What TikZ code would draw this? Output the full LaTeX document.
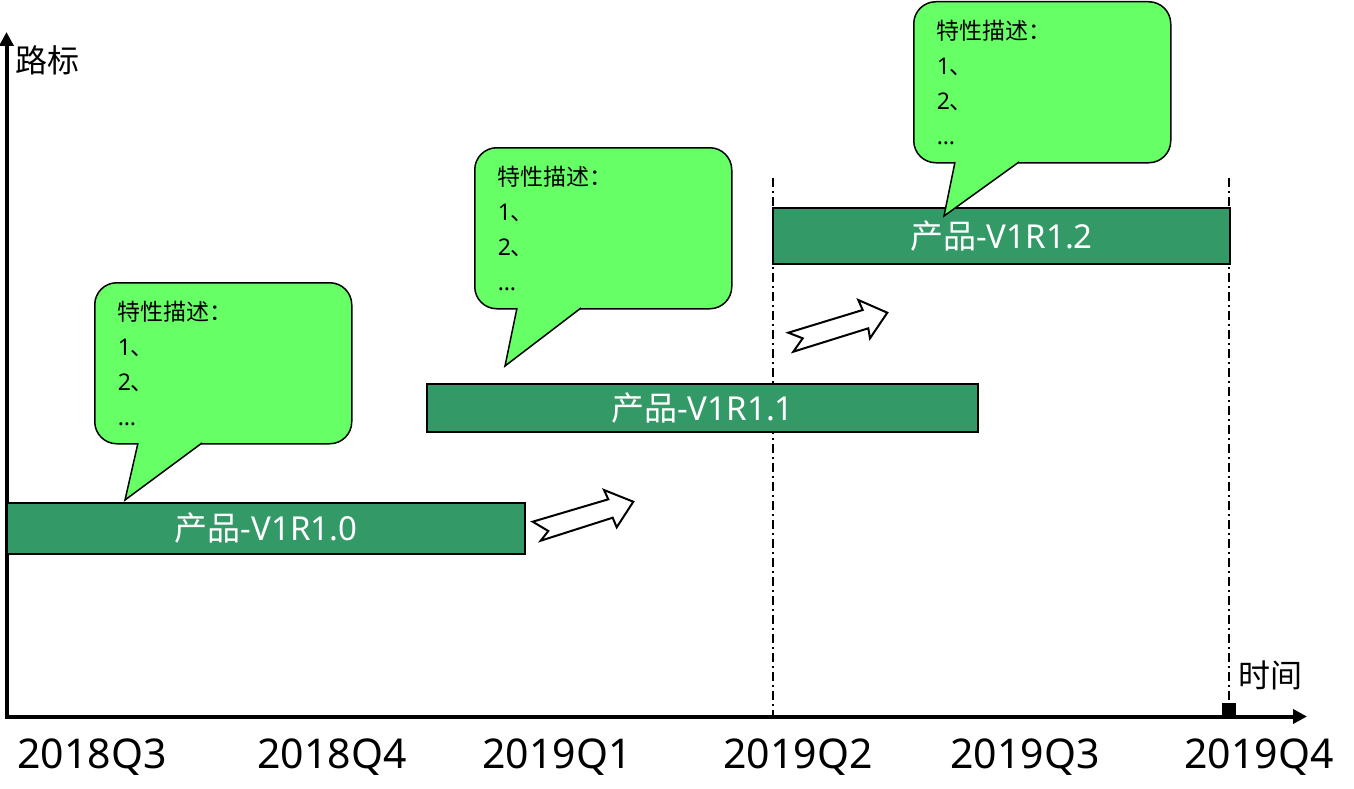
\documentclass[tikz,border=0pt]{standalone}
\usepackage{fontspec}
\setmainfont{Noto Sans}
\newfontfamily\cjk{Noto Sans CJK SC}
\usetikzlibrary{arrows.meta,calc}
\definecolor{bargreen}{RGB}{51,153,102}
\definecolor{callgreen}{RGB}{102,255,102}
\newcommand\calltail[3]{%
  \fill[callgreen] ($(#3)!1.06!(#1)$) -- (#3) -- ($(#3)!1.06!(#2)$) -- cycle;
  \draw[tailline] (#1) -- (#3) -- (#2);}
\begin{document}
\begin{tikzpicture}[x=1pt,y=-1pt,
  bar/.style={draw=black, line width=2.5pt, fill=bargreen, text=white, inner sep=0pt,
    font=\fontsize{33}{36}\selectfont},
  callbox/.style={draw=black, line width=1.5pt, fill=callgreen, rounded corners=22pt,
    minimum width=257pt, minimum height=161pt, anchor=north west, inner xsep=23pt,
    text width=211pt, align=left, font=\fontsize{23}{35}\selectfont},
  tailline/.style={draw=black, line width=1.5pt, line join=miter},
  blockarrow/.style={draw=black, line width=2pt, fill=white, line join=miter},
  axis/.style={line width=4pt, line join=miter,
    {Triangle[length=14pt,width=14pt]}-{Triangle[length=14pt,width=14pt]}},
  guide/.style={line width=2pt, dash pattern=on 9pt off 4pt on 2pt off 4pt},
  qlabel/.style={font=\fontsize{41}{46}\selectfont, inner sep=0pt},
  axlabel/.style={font=\fontsize{32}{36}\cjk, inner sep=0pt}
]
\useasboundingbox (0,0) rectangle (1354,789);

% axes
\coordinate (O) at (6.5,716.5);
\coordinate (Yend) at (6.5,32);
\coordinate (Xend) at (1307,716.5);
\draw[axis] (Yend) -- (O) -- (Xend);
\node[axlabel] (yl) at (48,60) {路标};
\node[axlabel] (xl) at (1270,675) {时间};

% guides
\coordinate (g1t) at (773,178);
\coordinate (g1b) at (773,716);
\coordinate (g2t) at (1229,178);
\coordinate (g2b) at (1229,703);
\draw[guide] (g1t) -- (g1b);
\draw[guide] (g2t) -- (g2b);
\fill (1222,703) rectangle (1236,716.5);

% bars
\node[bar, minimum width=518pt, minimum height=51pt] (b1) at (266,528.5) {{\cjk 产品}-V1R1.0};
\node[bar, minimum width=551pt, minimum height=48pt] (b2) at (702.5,408) {{\cjk 产品}-V1R1.1};
\node[bar, minimum width=457pt, minimum height=56pt] (b3) at (1001.5,236) {{\cjk 产品}-V1R1.2};

% block arrows
\draw[blockarrow] (532.7,521.7) -- (608.3,499.3) -- (604,490) -- (633.3,501.7)
  -- (616.7,527.3) -- (612.7,517.7) -- (540.7,540.7) -- (548.3,531) -- cycle;
\draw[blockarrow] (788.3,332.7) -- (862.7,310) -- (858.3,300) -- (887.3,312.7)
  -- (870,338.3) -- (868.3,328.3) -- (793.3,351.7) -- (802.7,338.3) -- cycle;

% callouts
\node[callbox] (c1) at (94,282) {{\cjk 特性描述：}\\1{\cjk 、}\\2{\cjk 、}\\…};
\coordinate (c1a) at (138,443);
\coordinate (c1b) at (202,443);
\coordinate (c1t) at (125,500);
\calltail{c1a}{c1b}{c1t}

\node[callbox] (c2) at (474,147) {{\cjk 特性描述：}\\1{\cjk 、}\\2{\cjk 、}\\…};
\coordinate (c2a) at (517,308);
\coordinate (c2b) at (581,308);
\coordinate (c2t) at (505,366);
\calltail{c2a}{c2b}{c2t}

\node[callbox] (c3) at (913,1) {{\cjk 特性描述：}\\1{\cjk 、}\\2{\cjk 、}\\…};
\coordinate (c3a) at (955,162);
\coordinate (c3b) at (1019,162);
\coordinate (c3t) at (944,216);
\calltail{c3a}{c3b}{c3t}

% quarter labels
\node[qlabel] (q1) at (92,757) {2018Q3};
\node[qlabel] (q2) at (332,757) {2018Q4};
\node[qlabel] (q3) at (557,757) {2019Q1};
\node[qlabel] (q4) at (798,757) {2019Q2};
\node[qlabel] (q5) at (1025,757) {2019Q3};
\node[qlabel] (q6) at (1259,757) {2019Q4};
\end{tikzpicture}
\end{document}
